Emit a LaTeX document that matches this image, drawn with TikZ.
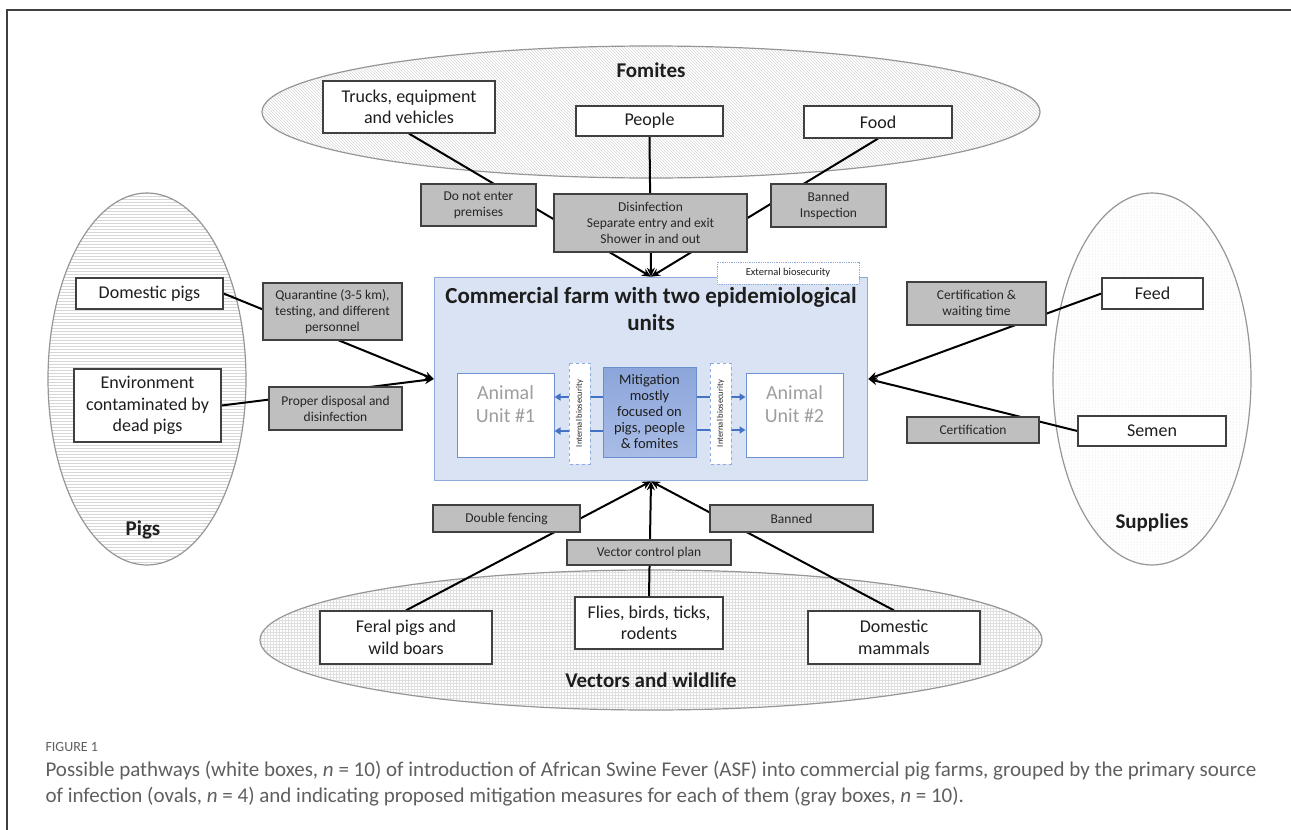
\documentclass[tikz,border=0pt]{standalone}
\usepackage{fontspec}
\setmainfont{Carlito}
\usetikzlibrary{patterns,arrows.meta,calc,shapes.geometric}
\pgfdeclarelayer{back}\pgfdeclarelayer{mid}
\pgfsetlayers{back,mid,main}
\definecolor{gboxc}{RGB}{191,191,191}
\definecolor{bord}{RGB}{64,64,64}
\definecolor{farmfill}{RGB}{218,227,243}
\definecolor{farmdraw}{RGB}{143,170,220}
\definecolor{unitdraw}{RGB}{110,145,210}
\definecolor{mittop}{RGB}{140,165,218}
\definecolor{mitbot}{RGB}{168,188,230}
\definecolor{arrblue}{RGB}{68,114,196}
\definecolor{ovaldraw}{RGB}{150,150,150}
\definecolor{captxt}{RGB}{95,95,95}
\definecolor{txt}{RGB}{30,30,30}
\begin{document}
\begin{tikzpicture}[x=1pt,y=-1pt,
  wbox/.style={draw=bord, line width=1.2pt, fill=white, align=center, inner sep=0pt, text=txt, font=\fontsize{18}{21.6}\selectfont},
  gbox/.style={draw=bord, line width=1.2pt, fill=gboxc, align=center, inner sep=0pt, text=black!85, font=\fontsize{13.5}{16}\selectfont},
  oval/.style={ellipse, draw=ovaldraw, line width=1.2pt, inner sep=0pt, pattern color=gray!32},
  ovallab/.style={font=\bfseries\fontsize{21}{25}\selectfont, text=txt},
  conn/.style={line width=2pt, black},
  arr/.style={conn, -{Stealth[length=9pt,width=8pt]}},
  barr/.style={line width=2pt, arrblue, -{Triangle[length=6pt,width=7pt]}},
  unitbox/.style={draw=unitdraw, line width=1pt, fill=white, inner sep=0pt, minimum width=97pt, minimum height=84pt},
  unitlab/.style={font=\fontsize{20}{23}\selectfont, text=black!38, align=center},
  ibox/.style={draw=farmdraw, dashed, line width=0.8pt, fill=white, inner sep=0pt, rotate=90, minimum width=101pt, minimum height=21pt, font=\fontsize{8.5}{10}\selectfont, text=txt}
]
\useasboundingbox (0,0) rectangle (1291,830);
\draw[line width=1.5pt, black!75] (7,830) -- (7,10) -- (1291,10);

% ---------- ovals and farm (background) ----------
\begin{pgfonlayer}{back}
\node[oval, minimum width=778pt, minimum height=132pt, pattern=north west lines] (fomites) at (651,112) {};
\node[oval, minimum width=198pt, minimum height=372pt, pattern=horizontal lines] (pigs) at (147,379) {};
\node[oval, minimum width=198pt, minimum height=372pt, pattern=dots] (supplies) at (1152,379) {};
\node[oval, minimum width=782pt, minimum height=140pt, pattern=grid, pattern color=gray!25] (vectors) at (651,640) {};
\node[draw=farmdraw, fill=farmfill, line width=1.5pt, minimum width=433pt, minimum height=203pt, inner sep=0pt] (farm) at (651,379) {};
\end{pgfonlayer}

\node[ovallab] (fomlab) at (651,70) {Fomites};
\node[ovallab] (piglab) at (143,530) {Pigs};
\node[ovallab] (suplab) at (1152,523) {Supplies};
\node[ovallab] (veclab) at (651,680) {Vectors and wildlife};

% ---------- fomites ----------
\node[wbox, minimum width=172pt, minimum height=52pt] (trucks) at (409,107) {Trucks, equipment\\and vehicles};
\node[wbox, minimum width=147pt, minimum height=30pt] (people) at (649.5,121) {People};
\node[wbox, minimum width=148pt, minimum height=32pt] (food) at (878,122) {Food};
\node[gbox, minimum width=115pt, minimum height=42pt] (dne) at (478.5,205) {Do not enter\\premises};
\node[gbox, minimum width=193pt, minimum height=58pt] (disinf) at (650.5,223) {Disinfection\\Separate entry and exit\\Shower in and out};
\node[gbox, minimum width=115pt, minimum height=43pt] (bani) at (828.5,205.5) {Banned\\Inspection};

% ---------- pigs ----------
\node[wbox, minimum width=147pt, minimum height=31pt] (dompigs) at (149.5,293.5) {Domestic pigs};
\node[wbox, minimum width=147pt, minimum height=73pt] (env) at (147.5,405.5) {Environment\\contaminated by\\dead pigs};
\node[gbox, minimum width=139pt, minimum height=57pt] (quar) at (332.5,311.5) {Quarantine (3-5 km),\\testing, and different\\personnel};
\node[gbox, minimum width=133pt, minimum height=43pt] (disp) at (335.5,408.5) {Proper disposal and\\disinfection};

% ---------- supplies ----------
\node[wbox, minimum width=101pt, minimum height=31pt] (feed) at (1152.5,293.5) {Feed};
\node[wbox, minimum width=148pt, minimum height=30pt] (semen) at (1152,431) {Semen};
\node[gbox, minimum width=139pt, minimum height=43pt] (certw) at (976.5,303.5) {Certification \&\\waiting time};
\node[gbox, minimum width=132pt, minimum height=26pt] (cert) at (973,430) {Certification};

% ---------- vectors ----------
\node[wbox, minimum width=172pt, minimum height=53pt] (feral) at (406,637.5) {Feral pigs and\\wild boars};
\node[wbox, minimum width=148pt, minimum height=52pt] (flies) at (649,623) {Flies, birds, ticks,\\rodents};
\node[wbox, minimum width=172pt, minimum height=53pt] (dommam) at (894,637.5) {Domestic\\mammals};
\node[gbox, minimum width=147pt, minimum height=27pt] (dblf) at (506.5,518.5) {Double fencing};
\node[gbox, minimum width=164pt, minimum height=25pt] (vcp) at (649,552.5) {Vector control plan};
\node[gbox, minimum width=163pt, minimum height=27pt] (banned) at (791.5,518.5) {Banned};

% ---------- farm interior ----------
\node[font=\bfseries\fontsize{23}{27}\selectfont, text=txt, align=center] (title) at (651,309.5) {Commercial farm with two epidemiological\\units};
\node[draw=farmdraw, densely dotted, line width=0.8pt, fill=white, minimum width=142pt, minimum height=22pt, inner sep=0pt, font=\fontsize{10.5}{12}\selectfont, text=txt] (extb) at (788,273) {External biosecurity};
\node[unitbox] (u1) at (505.5,415) {};
\node[unitlab] (u1t) at (505.5,404) {Animal\\Unit \#1};
\node[unitbox] (u2) at (794.5,415) {};
\node[unitlab] (u2t) at (794.5,404) {Animal\\Unit \#2};
\node[draw=arrblue!80, line width=0.8pt, top color=mittop, bottom color=mitbot, minimum width=93pt, minimum height=90pt, inner sep=0pt, align=center, text=txt, font=\fontsize{14.5}{16}\selectfont] (mit) at (649.5,412) {Mitigation\\mostly\\focused on\\pigs, people\\\& fomites};
\node[ibox] (ib1) at (579.5,413.5) {Internal biosecurity};
\node[ibox] (ib2) at (720.5,413.5) {Internal biosecurity};

% ---------- connectors ----------
\begin{pgfonlayer}{mid}
\draw[arr] (trucks.south) -- (farm.north);
\draw[arr] (people.south) -- (farm.north);
\draw[arr] (food.south) -- (farm.north);
\draw[arr] (dompigs.east) -- (farm.west);
\draw[arr] (env.east) -- (farm.west);
\draw[arr] (feed.west) -- (farm.east);
\draw[arr] (semen.west) -- (farm.east);
\draw[arr] (feral.north) -- (farm.south);
\draw[arr] (flies.north) -- (farm.south);
\draw[arr] (dommam.north) -- (farm.south);
\coordinate (m1) at ([yshift=15pt]mit.west);
\coordinate (m2) at ([yshift=-19pt]mit.west);
\coordinate (m3) at ([yshift=15pt]mit.east);
\coordinate (m4) at ([yshift=-18pt]mit.east);
\draw[barr] (m1) -- (m1 -| u1.east);
\draw[barr] (m2) -- (m2 -| u1.east);
\draw[barr] (m3) -- (m3 -| u2.west);
\draw[barr] (m4) -- (m4 -| u2.west);
\end{pgfonlayer}

% ---------- caption ----------
\node[anchor=base west, font=\fontsize{14}{15}\selectfont, text=captxt] (figlab) at (42,751) {FIGURE 1};
\node[anchor=base west, font=\fontsize{21}{22}\selectfont, text=captxt] (cap1) at (42,776) {Possible pathways (white boxes, \textit{n} = 10) of introduction of African Swine Fever (ASF) into commercial pig farms, grouped by the primary source};
\node[anchor=base west, font=\fontsize{21}{22}\selectfont, text=captxt] (cap2) at (42,802) {of infection (ovals, \textit{n} = 4) and indicating proposed mitigation measures for each of them (gray boxes, \textit{n} = 10).};
\end{tikzpicture}
\end{document}
